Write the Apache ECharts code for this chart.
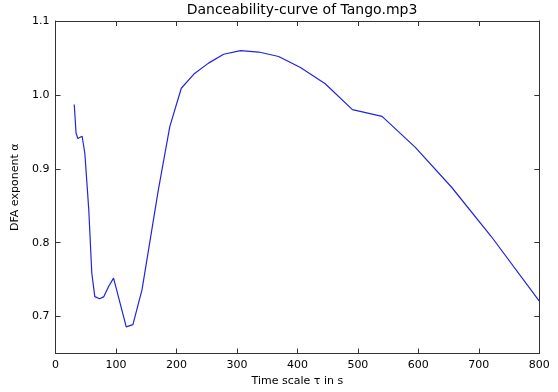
<!DOCTYPE html>
<html><head><meta charset="utf-8">
<script src="https://cdn.jsdelivr.net/npm/echarts@6/dist/echarts.min.js"></script>
<style>html,body{margin:0;padding:0;background:#fff}#c{width:558px;height:392px}</style>
</head><body><div id="c"></div>
<script>
const timeScale = [31, 34, 37, 44, 46, 48.5, 55, 60, 65, 73, 80, 88, 96, 117, 128, 143, 170, 189, 208, 230, 253, 278, 306, 336, 369, 405, 446, 491, 540, 595, 655, 720, 800];
const alphaVals = [0.987, 0.948, 0.941, 0.944, 0.945, 0.921, 0.845, 0.759, 0.727, 0.724, 0.727, 0.741, 0.752, 0.686, 0.689, 0.736, 0.871, 0.957, 1.009, 1.029, 1.043, 1.055, 1.060, 1.058, 1.052, 1.037, 1.015, 0.980, 0.971, 0.929, 0.875, 0.809, 0.721];
const yTicks = [0.7, 0.8, 0.9, 1.0, 1.1];
const titleText = 'Danceability-curve of Tango.mp3';

const font = 'DejaVu Sans';
const chart = echarts.init(document.getElementById('c'), null, {renderer: 'canvas'});
const data = timeScale.map((t, i) => [t, alphaVals[i]]);
const frameLine = {show: true, onZero: false, lineStyle: {color: '#333', width: 1}};
const tick = {show: true, inside: true, length: 5, lineStyle: {color: '#333'}};
chart.setOption({
  animation: false,
  backgroundColor: '#fff',
  title: {text: titleText, left: 297, top: 0, padding: [3, 5, 0, 5], textAlign: 'center',
    textStyle: {fontFamily: font, fontSize: 14, fontWeight: 'normal', color: '#000'}},
  grid: {left: 55.5, right: 18.7, top: 21, bottom: 38.5},
  xAxis: [
    {type: 'value', min: 0, max: 800, interval: 100, position: 'bottom',
     name: 'Time scale τ in s', nameLocation: 'middle', nameGap: 21,
     nameTextStyle: {fontFamily: font, fontSize: 11, color: '#000'},
     axisLine: frameLine, axisTick: tick,
     axisLabel: {fontFamily: font, fontSize: 11, color: '#000', margin: 6},
     splitLine: {show: false}},
    {type: 'value', min: 0, max: 800, interval: 100, position: 'top',
     axisLine: frameLine, axisTick: tick,
     axisLabel: {show: false}, splitLine: {show: false}}
  ],
  yAxis: [
    {type: 'value', min: 0.65, max: 1.1, position: 'left',
     name: 'DFA exponent α', nameLocation: 'middle', nameGap: 29, nameRotate: 90,
     nameTextStyle: {fontFamily: font, fontSize: 11, color: '#000'},
     axisLine: frameLine,
     axisTick: Object.assign({customValues: yTicks}, tick),
     axisLabel: {fontFamily: font, fontSize: 11, color: '#000', margin: 6, customValues: yTicks,
       formatter: v => v.toFixed(1)},
     splitLine: {show: false}},
    {type: 'value', min: 0.65, max: 1.1, position: 'right',
     axisLine: frameLine,
     axisTick: Object.assign({customValues: yTicks}, tick),
     axisLabel: {show: false, customValues: yTicks}, splitLine: {show: false}}
  ],
  series: [{type: 'line', data: data, xAxisIndex: 0, yAxisIndex: 0, showSymbol: false,
    lineStyle: {color: '#2323e0', width: 1.2}}]
});
</script></body></html>
